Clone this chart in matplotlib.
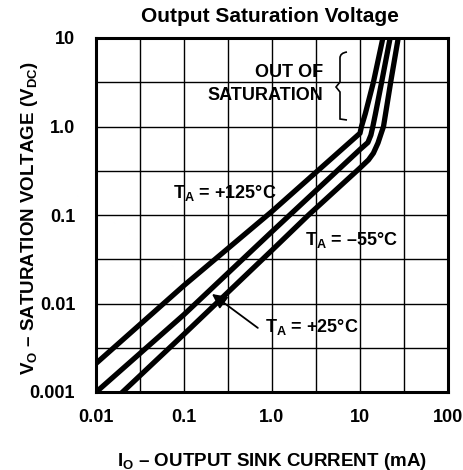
import numpy as np
import matplotlib
matplotlib.use("Agg")
import matplotlib.pyplot as plt
from matplotlib.path import Path
from matplotlib.patches import PathPatch

# curves: output sink current (mA) vs saturation voltage (V)
t125_x = [0.01, 0.1, 1.0, 10, 10.4, 11.5, 14.2, 18.2, 19.5]
t125_y = [0.0021, 0.016, 0.11, 0.84, 1.0, 1.4, 3.16, 10, 13]

t25_x = [0.0095, 0.1, 1.0, 10, 12.3, 13.3, 14.0, 15.0, 17.6, 22, 23.5]
t25_y = [0.00095, 0.0075, 0.065, 0.55, 0.66, 0.8, 1.0, 1.4, 3.16, 10, 13]

tm55_x = [0.019, 0.1, 1.0, 2.6, 10, 12.5, 14.2, 16, 17.5, 18.5, 22.3, 27.2, 29]
tm55_y = [0.00095, 0.0045, 0.04, 0.1, 0.34, 0.42, 0.5, 0.65, 0.85, 1.0, 3.16, 10, 13]

x_ticks = [0.01, 0.1, 1.0, 10, 100]
x_labels = ["0.01", "0.1", "1.0", "10", "100"]
y_ticks = [0.001, 0.01, 0.1, 1.0, 10]
y_labels = ["0.001", "0.01", "0.1", "1.0", "10"]

fam = ["Liberation Sans", "DejaVu Sans"]
plt.rcParams["mathtext.fontset"] = "custom"
plt.rcParams["mathtext.rm"] = "Liberation Sans:bold"
plt.rcParams["mathtext.it"] = "Liberation Sans:bold"
plt.rcParams["mathtext.bf"] = "Liberation Sans:bold"

W, H = 463, 470
fig = plt.figure(figsize=(W / 100, H / 100), dpi=100)
ax = fig.add_axes([96 / W, 1 - 392 / H, 352 / W, 354 / H])

ax.set_xscale("log")
ax.set_yscale("log")
ax.set_xlim(0.01, 100)
ax.set_ylim(0.001, 10)

# decade and half-decade grid
ax.set_xticks(x_ticks)
ax.set_xticklabels(x_labels)
ax.set_yticks(y_ticks)
ax.set_yticklabels(y_labels)
ax.set_xticks([10 ** (k + 0.5) for k in range(-2, 2)], minor=True)
ax.set_yticks([10 ** (k + 0.5) for k in range(-3, 1)], minor=True)
ax.tick_params(which="both", length=0)
ax.tick_params(axis="x", pad=12.5)
ax.tick_params(axis="y", pad=15)
ax.grid(True, which="both", color="black", linewidth=1.0)
for lab in ax.get_xticklabels() + ax.get_yticklabels():
    lab.set_family(fam)
    lab.set_fontweight("bold")
    lab.set_fontsize(13)
for s in ax.spines.values():
    s.set_linewidth(2.2)

for xs, ys in [(t125_x, t125_y), (t25_x, t25_y), (tm55_x, tm55_y)]:
    ax.plot(xs, ys, color="black", linewidth=3.8, solid_joinstyle="round", zorder=3)

txt = dict(family=fam, fontweight="bold", fontsize=13, color="black")
ax.text(0.075, 0.175, "T$_\\mathrm{A}$ = +125°C", ha="left", va="center", **txt)
ax.text(8.1, 0.052, "T$_\\mathrm{A}$ = \u201355°C", ha="center", va="center", **txt)
ax.text(0.83, 0.0054, "T$_\\mathrm{A}$ = +25°C", ha="left", va="center", **txt)
ax.text(3.8, 4.1, "OUT OF", ha="right", va="center", **txt)
ax.text(3.8, 2.25, "SATURATION", ha="right", va="center", **txt)

ax.annotate("", xy=(0.208, 0.0128), xytext=(0.69, 0.0053),
            arrowprops=dict(arrowstyle="-|>", color="black", lw=1.3,
                            mutation_scale=22, shrinkA=0, shrinkB=0))

# curly brace next to the "out of saturation" note (figure pixels)
bx = [347, 340, 340, 340, 340, 336, 340, 340, 340, 340, 347]
by = [52, 53, 58, 64, 82, 87, 92, 110, 116, 119, 120]
codes = [Path.MOVETO, Path.CURVE3, Path.CURVE3, Path.LINETO, Path.LINETO,
         Path.LINETO, Path.LINETO, Path.LINETO, Path.CURVE3, Path.CURVE3, Path.LINETO]
verts = [(x / W, 1 - y / H) for x, y in zip(bx, by)]
fig.add_artist(PathPatch(Path(verts, codes), fill=False, lw=1.2,
                         edgecolor="black", transform=fig.transFigure))

lab = dict(family=fam, fontweight="bold", fontsize=13.5, color="black")
fig.text(270 / W, 1 - 17 / H, "Output Saturation Voltage", ha="center", va="center",
         family=fam, fontweight="bold", fontsize=15)
fig.text(272 / W, 1 - 461 / H, "I$_\\mathrm{O}$ \u2013 OUTPUT SINK CURRENT (mA)",
         ha="center", va="center", **lab)
fig.text(30 / W, 1 - 218 / H, "V$_\\mathrm{O}$ \u2013 SATURATION VOLTAGE (V$_\\mathrm{DC}$)",
         ha="center", va="center", rotation=90, **lab)

fig.savefig("out.png", dpi=100)
